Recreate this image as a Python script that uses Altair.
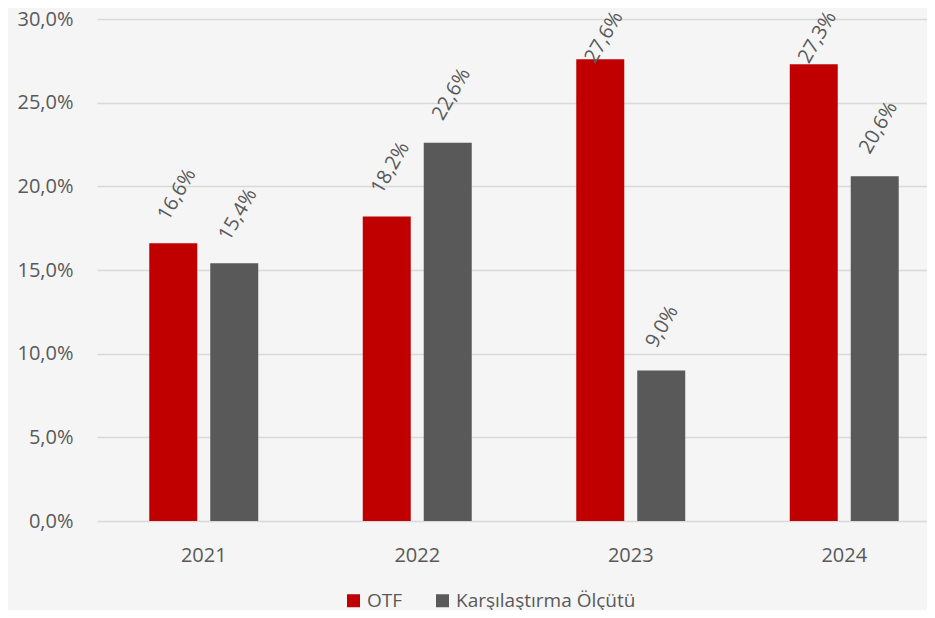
import altair as alt
import pandas as pd

years = ["2021", "2022", "2023", "2024"]
series = ["OTF", "Karşılaştırma Ölçütü"]
otf = [16.6, 18.2, 27.6, 27.3]
bench = [15.4, 22.6, 9.0, 20.6]
colors = ["#c00000", "#595959"]
y_ticks = [0, 5, 10, 15, 20, 25, 30]

rows = []
for i, yr in enumerate(years):
    rows.append({"year": yr, "series": series[0], "value": otf[i]})
    rows.append({"year": yr, "series": series[1], "value": bench[i]})
df = pd.DataFrame(rows)

FONT = "Open Sans"
TXT = "#595959"
fmt = "replace(format(datum.value, '.1f'), '.', ',') + '%'"

x_enc = alt.X(
    "year:N", sort=years,
    scale=alt.Scale(range=[0, 854], paddingInner=0, paddingOuter=0),
    axis=alt.Axis(title=None, labelAngle=0, labelFontSize=20, labelColor=TXT,
                  labelFont=FONT, labelPadding=24, ticks=False, tickSize=0,
                  domain=False, grid=False),
)
xo_enc = alt.XOffset("series:N", sort=series,
                     scale=alt.Scale(paddingInner=0.213, paddingOuter=0.857))
y_scale = alt.Scale(domain=[0, 30], nice=False)
y_enc = alt.Y(
    "value:Q", scale=y_scale,
    axis=alt.Axis(values=y_ticks, labelExpr=fmt, title=None, grid=True,
                  gridColor="#d9d9d9", gridWidth=1.5, domain=False, ticks=False,
                  tickSize=0, labelPadding=24, labelFontSize=20, labelColor=TXT,
                  labelFont=FONT),
)
color_enc = alt.Color(
    "series:N", sort=series,
    scale=alt.Scale(domain=series, range=colors),
    legend=alt.Legend(orient="none", legendX=247, legendY=572,
                      direction="horizontal", title=None, symbolType="square",
                      symbolSize=169, symbolStrokeWidth=0, symbolOpacity=1,
                      labelFontSize=19, labelColor=TXT, labelFont=FONT,
                      labelLimit=0, labelOffset=4, columnPadding=30, padding=0),
)

base = alt.Chart(df)
bars = base.mark_bar().encode(x=x_enc, xOffset=xo_enc, y=y_enc, color=color_enc)
# Like the original, labels of the tallest bars are pushed down to stay inside the chart
labels = base.transform_calculate(
    label="replace(format(datum.value, '.1f'), '.', ',') + '%'",
    label_pos="min(datum.value, 26.0)",
).mark_text(align="left", baseline="middle", angle=300, dx=16, dy=-21,
            fontSize=20, color=TXT, font=FONT).encode(
    x=x_enc, xOffset=xo_enc,
    y=alt.Y("label_pos:Q", scale=y_scale), text="label:N")

chart = alt.layer(bars, labels).properties(
    width=830, height=502,
    autosize=alt.AutoSizeParams(type="none"),
    padding={"left": 89, "top": 11, "right": 0, "bottom": 89},
    background="#f5f5f6",
).configure_view(stroke=None)

chart.save("out.html", embed_options={"renderer": "svg", "actions": False})
